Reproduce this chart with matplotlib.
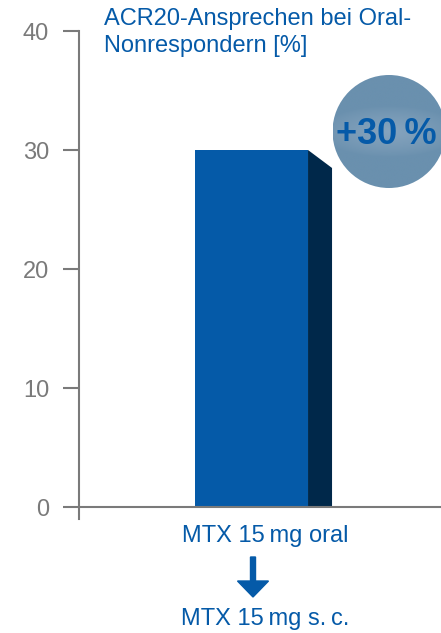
import numpy as np
import matplotlib
matplotlib.use("Agg")
import matplotlib.pyplot as plt
from matplotlib.patches import Polygon, Circle, FancyArrow
from matplotlib.transforms import IdentityTransform

categories = ["MTX 15\u2009mg oral"]
values = [30]
yticks = [0, 10, 20, 30, 40]
title = "ACR20-Ansprechen bei Oral-\nNonrespondern [%]"
badge = "+30\u2009%"
sub_label = "MTX 15\u2009mg s.\u2009c."

BLUE = "#055aa8"
DARK = "#00284a"
GRAY = "#7a7a7a"

plt.rcParams['font.family'] = ['Liberation Sans', 'DejaVu Sans']

W, H = 441, 633
fig = plt.figure(figsize=(W/100, H/100), dpi=100)
ax = fig.add_axes([79/W, (H-519)/H, (W-79)/W, (519-31)/H])
ax.set_ylim(-1, 40)
ax.set_xlim(-0.916, 1.006)

bw = 0.6
depth = 0.1275
drop = 1.51
for i, v in enumerate(values):
    ax.bar(i, v, width=bw, color=BLUE, zorder=3)
    side = Polygon([(i+bw/2, 0), (i+bw/2, v), (i+bw/2+depth, v-drop), (i+bw/2+depth, 0)],
                   closed=True, facecolor=DARK, edgecolor='none', zorder=3)
    ax.add_patch(side)

for s in ['top', 'right']:
    ax.spines[s].set_visible(False)
ax.spines['bottom'].set_position(('data', 0))
for s in ['left', 'bottom']:
    ax.spines[s].set_color(GRAY)
    ax.spines[s].set_linewidth(1.5)
    ax.spines[s].set_zorder(4)

ax.set_yticks(yticks)
ax.set_yticklabels([str(t) for t in yticks])
ax.tick_params(axis='y', length=11.5, width=1.5, color=GRAY, labelcolor=GRAY,
               labelsize=17, pad=10)
ax.set_xticks([])

# title
fig.text(104/W, 1 - 8/H, title, ha='left', va='top', color=BLUE, fontsize=17,
         linespacing=1.3)

# x labels
fig.text(265/W, 1 - 536/H, categories[0], ha='center', va='center', color=BLUE, fontsize=17)
fig.text(265/W, 1 - 619/H, sub_label, ha='center', va='center', color=BLUE, fontsize=17)

# arrow
arr = FancyArrow(253, H-557, 0, -40, width=5, head_width=31, head_length=16,
                 length_includes_head=True, color=BLUE, transform=IdentityTransform())
fig.patches.append(arr)

# badge circle with soft gradient
cx, cy, r = 389, H-131.5, 56.5
bax = fig.add_axes([(cx-r)/W, (cy-r)/H, 2*r/W, 2*r/H])
bax.set_xlim(-1, 1)
bax.set_ylim(-1, 1)
bax.axis('off')
yy, xx = np.mgrid[-1:1:200j, -1:1:200j]
dist = np.sqrt((xx*0.8)**2 + (yy*2.2)**2)
g = np.clip(1 - dist, 0, 1) ** 0.8
c_out = np.array([0x6a, 0x90, 0xae]) / 255
c_in = np.array([0x86, 0xa4, 0xbe]) / 255
img = c_out[None, None, :] + (c_in - c_out)[None, None, :] * g[..., None]
im = bax.imshow(img, extent=(-1, 1, -1, 1), origin='lower', interpolation='bilinear')
circ = Circle((0, 0), 1, transform=bax.transData, facecolor='none', edgecolor='none')
bax.add_patch(circ)
im.set_clip_path(circ)
bax.text(-0.05, -0.05, badge, ha='center', va='center', color=BLUE, fontsize=26,
         fontweight='bold', family=['Liberation Sans', 'DejaVu Sans'])

fig.savefig("out.png", dpi=100)
